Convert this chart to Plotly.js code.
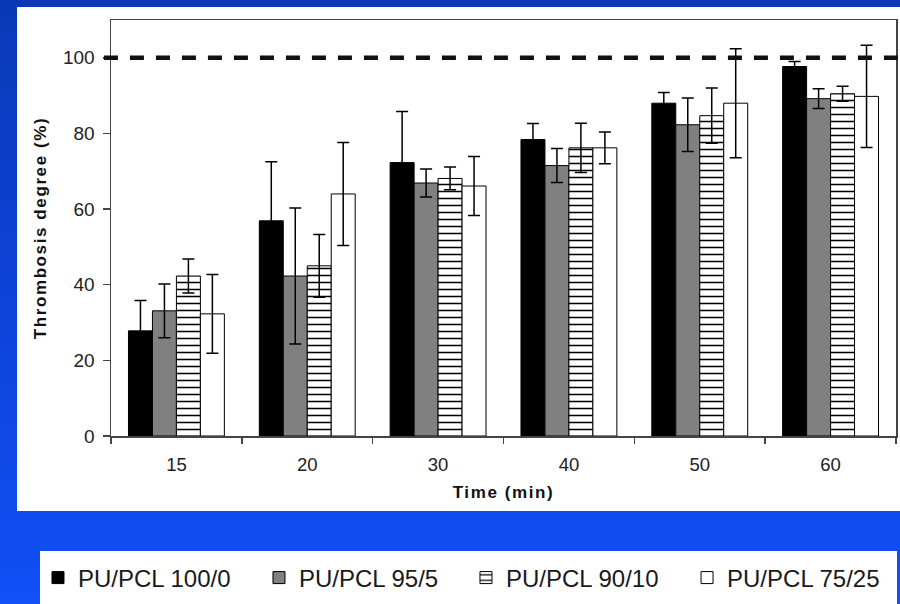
<!DOCTYPE html>
<html><head><meta charset="utf-8">
<script src="https://cdn.plot.ly/plotly-3.0.1.min.js"></script>
<style>
html,body{margin:0;padding:0;}
body{background:linear-gradient(to bottom,#0a39b6 0%,#0d44dc 55%,#1050f5 100%);}
#chart{width:900px;height:604px;}
.g-xtitle text,.g-ytitle text{letter-spacing:1.6px;}
</style></head><body><div id="chart"></div>
<script>
const categories = ['15','20','30','40','50','60'];
const seriesNames = ['PU/PCL 100/0','PU/PCL 95/5','PU/PCL 90/10','PU/PCL 75/25'];
const pu100 = [27.8, 56.9, 72.3, 78.4, 88.0, 97.7];
const pu100Err = [8.0, 15.6, 13.5, 4.2, 2.8, 1.3];
const pu95 = [33.1, 42.3, 66.9, 71.5, 82.3, 89.2];
const pu95Err = [7.1, 18.0, 3.7, 4.5, 7.1, 2.6];
const pu90 = [42.3, 45.0, 68.1, 76.2, 84.7, 90.5];
const pu90Err = [4.5, 8.3, 3.0, 6.5, 7.3, 2.0];
const pu75 = [32.3, 64.0, 66.1, 76.2, 88.0, 89.8];
const pu75Err = [10.4, 13.6, 7.8, 4.2, 14.4, 13.5];
const yTicks = [0, 20, 40, 60, 80, 100];
const referenceLevel = 100;

const lineBlack = {color:'#000', width:1};
function errs(arr){ return {type:'data', array:arr, visible:true, color:'#000', thickness:1.5, width:6}; }

const traces = [
  {type:'bar', name:seriesNames[0], x:categories, y:pu100, error_y:errs(pu100Err), legend:'legend',
   marker:{color:'#000', line:lineBlack}},
  {type:'bar', name:seriesNames[1], x:categories, y:pu95, error_y:errs(pu95Err), legend:'legend2',
   marker:{color:'#808080', line:lineBlack}},
  {type:'bar', name:seriesNames[2], x:categories, y:pu90, error_y:errs(pu90Err), legend:'legend3',
   marker:{color:'#fff', line:lineBlack, pattern:{shape:'-', fgcolor:'#000', bgcolor:'#fff', size:7, solidity:0.22, fillmode:'replace'}}},
  {type:'bar', name:seriesNames[3], x:categories, y:pu75, error_y:errs(pu75Err), legend:'legend4',
   marker:{color:'#fff', line:lineBlack}}
];

function leg(x){
  return {x:x, xanchor:'left', y:-0.3413, yanchor:'middle', orientation:'h',
    bgcolor:'rgba(0,0,0,0)', borderwidth:0, font:{size:24, color:'#1a1a1a'}};
}

const layout = {
  width:900, height:604,
  margin:{l:111, r:4, t:20, b:168, autoexpand:false},
  paper_bgcolor:'rgba(0,0,0,0)', plot_bgcolor:'#fff',
  barmode:'group', bargap:0.267, bargroupgap:0,
  font:{family:'"Liberation Sans", Arial, sans-serif', color:'#222'},
  showlegend:true,
  xaxis:{type:'category', tickson:'boundaries', ticks:'outside', ticklen:6, tickwidth:1.5, tickcolor:'#444',
    showline:true, linecolor:'#444', linewidth:1.5, mirror:true, showgrid:false,
    tickfont:{size:18.5, color:'#222'}, ticklabelstandoff:11,
    title:{text:'Time (min)', font:{size:17, weight:700, color:'#111'}, standoff:12}},
  yaxis:{range:[0,110], tickvals:yTicks, ticks:'outside', ticklen:7, tickwidth:1.5, tickcolor:'#444',
    showline:true, linecolor:'#444', linewidth:1.5, mirror:true, showgrid:false, zeroline:false,
    tickfont:{size:19, color:'#222'}, ticklabelstandoff:4,
    title:{text:'Thrombosis degree (%)', font:{size:17, weight:700, color:'#111'}, standoff:12}},
  shapes:[
    {type:'rect', xref:'paper', yref:'paper', x0:-0.1197, x1:1.0051, y0:-0.1803, y1:1.03125,
     fillcolor:'#fff', line:{width:0}, layer:'below'},
    {type:'rect', xref:'paper', yref:'paper', x0:-0.0904, x1:1.0013, y0:-0.4038, y1:-0.2764,
     fillcolor:'#fff', line:{width:0}, layer:'below'},
    {type:'line', xref:'paper', yref:'y', x0:-0.009, x1:1.005, y0:referenceLevel, y1:referenceLevel,
     line:{color:'#111', width:4.5, dash:'14px,12px'}, layer:'above'}
  ],
  legend:leg(-0.0930), legend2:leg(0.1885), legend3:leg(0.4522), legend4:leg(0.7338)
};

Plotly.newPlot('chart', traces, layout, {displayModeBar:false, staticPlot:true});
</script></body></html>
